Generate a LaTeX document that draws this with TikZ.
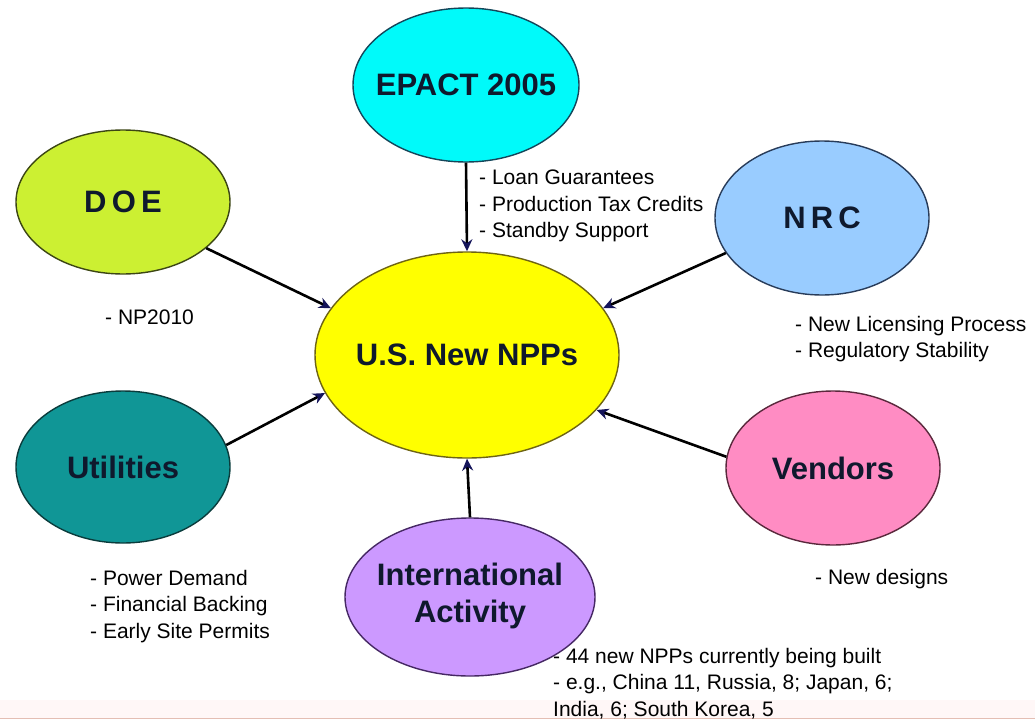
\documentclass[tikz,border=0pt]{standalone}
\usepackage{fontspec}
\setmainfont{Liberation Sans}
\usetikzlibrary{shapes.geometric,arrows.meta}

\definecolor{epactfill}{RGB}{0,250,250}
\definecolor{epactline}{RGB}{20,70,90}
\definecolor{doefill}{RGB}{204,240,50}
\definecolor{doeline}{RGB}{60,70,20}
\definecolor{nrcfill}{RGB}{153,204,255}
\definecolor{nrcline}{RGB}{40,60,90}
\definecolor{hubfill}{RGB}{255,255,0}
\definecolor{hubline}{RGB}{110,100,20}
\definecolor{utilfill}{RGB}{16,150,150}
\definecolor{utilline}{RGB}{10,60,60}
\definecolor{vendfill}{RGB}{255,140,195}
\definecolor{vendline}{RGB}{90,40,60}
\definecolor{intlfill}{RGB}{204,153,255}
\definecolor{intlline}{RGB}{70,40,100}
\definecolor{labelink}{RGB}{15,25,45}
\definecolor{tipink}{RGB}{20,20,90}
\definecolor{footline}{RGB}{228,190,180}

\tikzset{
  bubble/.style={ellipse, line width=1.4pt, inner sep=0pt,
    text=labelink, font=\fontsize{31}{37}\selectfont\bfseries},
  feed/.style={line width=2.6pt, draw=black,
    -{Stealth[length=12pt,width=11pt,color=tipink]}},
  notes/.style={anchor=north west, inner sep=0pt, align=left,
    font=\fontsize{21}{26.5}\selectfont}
}

\begin{document}
\begin{tikzpicture}[x=1pt,y=-1pt]
  % canvas
  \path[use as bounding box, fill=white] (0,0) rectangle (1035,720);
  \fill[red!3] (0,700) rectangle (1035,718);
  \draw[footline, line width=1.2pt] (0,718.5) -- (1035,718.5);

  % bubbles
  \node[bubble, fill=epactfill, draw=epactline, minimum width=226pt, minimum height=154pt]
    (epact) at (466,85) {\makebox[0pt]{EPACT 2005}};
  \node[bubble, fill=doefill, draw=doeline, minimum width=214pt, minimum height=144pt]
    (doe) at (123,202) {\makebox[0pt]{D\,O\,E}};
  \node[bubble, fill=nrcfill, draw=nrcline, minimum width=214pt, minimum height=154pt]
    (nrc) at (822,218) {\makebox[0pt]{N\,R\,C}};
  \node[bubble, fill=hubfill, draw=hubline, minimum width=304pt, minimum height=206pt]
    (hub) at (467,355) {\makebox[0pt]{U.S. New NPPs}};
  \node[bubble, fill=utilfill, draw=utilline, minimum width=214pt, minimum height=152pt]
    (util) at (123,467) {\makebox[0pt]{Utilities}};
  \node[bubble, fill=vendfill, draw=vendline, minimum width=214pt, minimum height=154pt]
    (vend) at (833,468) {\makebox[0pt]{Vendors}};
  \node[bubble, fill=intlfill, draw=intlline, minimum width=250pt, minimum height=158pt]
    (intl) at (470,597) {\makebox[0pt]{\begin{tabular}{@{}c@{}}International\\Activity\end{tabular}}};

  % connectors into the hub
  \draw[feed] (epact.south) -- (hub.north);
  \draw[feed] (doe.-29) -- (hub.161);
  \draw[feed] (nrc.200) -- (hub.19);
  \draw[feed] (util.12) -- (hub.195);
  \draw[feed] (vend.174) -- (hub.-23);
  \draw[feed] (intl.north) -- (hub.south);

  % notes
  \node[notes] (epactnote) at (479,170) {- Loan Guarantees\\- Production Tax Credits\\- Standby Support};
  \node[notes] (doenote) at (105,310) {- NP2010};
  \node[notes] (nrcnote) at (795,316) {- New Licensing Process\\- Regulatory Stability};
  \node[notes] (utilnote) at (90,570) {- Power Demand\\- Financial Backing\\- Early Site Permits};
  \node[notes] (vendnote) at (815,569) {- New designs};
  \node[notes] (intlnote) at (553,648) {- 44 new NPPs currently being built\\- e.g., China 11, Russia, 8; Japan, 6;\\India, 6; South Korea, 5};
\end{tikzpicture}
\end{document}
